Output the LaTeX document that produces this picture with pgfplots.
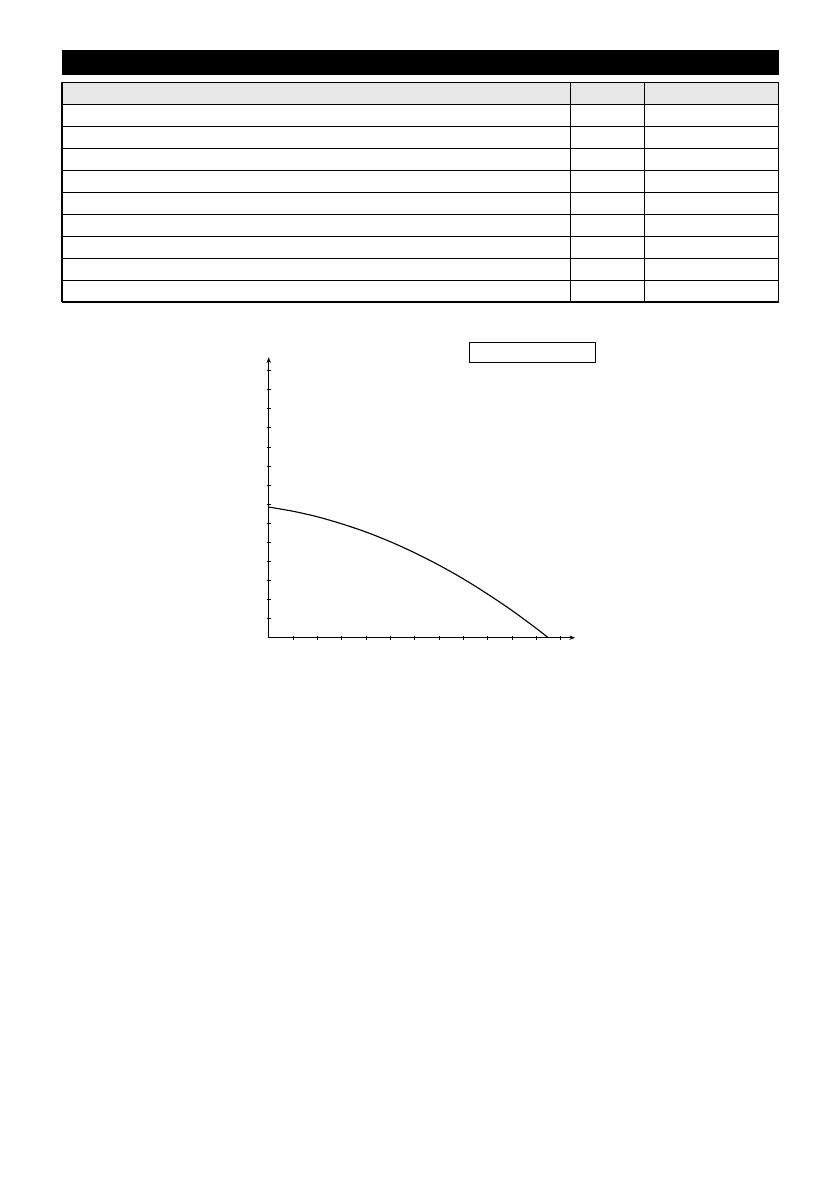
\documentclass[border=0pt]{standalone}
\usepackage{pgfplots}
\pgfplotsset{compat=1.18}
\usetikzlibrary{arrows.meta}

\definecolor{headgray}{RGB}{230,230,230}

% pump curve (x: tick units, y: tick units)
\pgfplotstableread{
x     y
0     6.85
1     6.63
2     6.34
3     5.97
4     5.54
5     5.03
6     4.45
7     3.80
8     3.08
9     2.28
10    1.42
11    0.48
11.48 0.00
}\curvedata

\begin{document}
\begin{tikzpicture}
  % page, in reference pixels
  \begin{scope}[x=0.25mm, y=-0.25mm]
    \path[fill=white] (0,0) rectangle (840,1190);
    % black title bar
    \fill[black] (62,50) rectangle (778.5,74.7);
    % table
    \fill[headgray] (62,82.3) rectangle (778.5,104);
    \foreach \k in {0,...,10} {
      \draw[line width=0.75pt] (62,82.3+\k*21.97) -- (778.5,82.3+\k*21.97);
    }
    \foreach \xx in {62,570.3,644.3,778.5} {
      \draw[line width=0.75pt] (\xx,82.3) -- (\xx,302);
    }
    % empty legend box of the chart
    \draw[line width=0.7pt] (469.3,342.3) rectangle (595.3,362.3);
  \end{scope}

  \begin{axis}[
      at={(67.175mm,-159.425mm)}, anchor=south west,
      scale only axis,
      width=76.575mm, height=70.1mm,
      xmin=0, xmax=12.58, ymin=0, ymax=14.7,
      axis lines=left,
      axis line style={line width=0.75pt, -{Stealth[length=1.4mm,width=1.1mm]}},
      xtick={1,...,12}, ytick={1,...,14},
      xticklabels={}, yticklabels={},
      tick align=center,
      major tick length=1.1mm,
      tick style={black, line width=0.6pt},
      clip=false,
    ]
    \addplot[black, line width=0.8pt, smooth, no marks] table[x=x, y=y] {\curvedata};
  \end{axis}
\end{tikzpicture}
\end{document}
